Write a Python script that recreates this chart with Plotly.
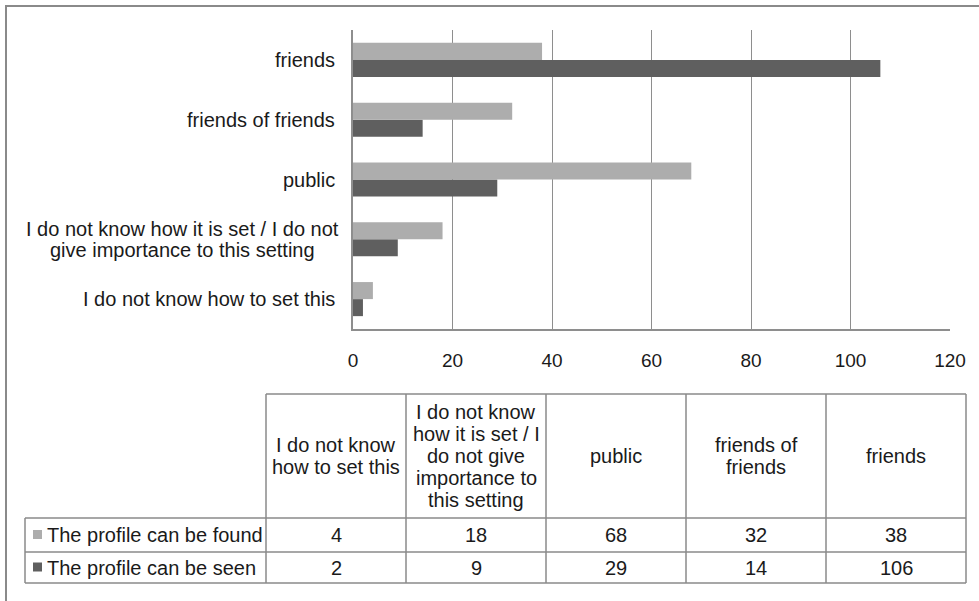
import plotly.graph_objects as go

# ---------------- data ----------------
categories = [
    "I do not know how to set this",
    "I do not know how it is set / I do not give importance to this setting",
    "public",
    "friends of friends",
    "friends",
]
axis_labels = [
    "I do not know how to set this",
    "I do not know how it is set / I do not<br>give importance to this setting",
    "public",
    "friends of friends",
    "friends",
]
table_headers = [
    "I do not know<br>how to set this",
    "I do not know<br>how it is set / I<br>do not give<br>importance to<br>this setting",
    "public",
    "friends of<br>friends",
    "friends",
]
series_names = ["The profile can be found", "The profile can be seen"]
found = [4, 18, 68, 32, 38]
seen = [2, 9, 29, 14, 106]
x_ticks = [0, 20, 40, 60, 80, 100, 120]

# ---------------- style ----------------
W, H = 979, 601
L, R, T, B = 353, 29, 30, 272
PW, PH = W - L - R, H - T - B
LIGHT = "#adadad"
DARK = "#5f5f5f"
GRID = "#8e8e8e"
TEXT = "#1a1a1a"
FONT = "Liberation Sans, Arial, sans-serif"
FS = 20
LS = 22  # line spacing in px


def px(xp):
    return (xp - L) / PW


def py(yp):
    return (H - B - yp) / PH


fig = go.Figure()
fig.add_trace(go.Bar(y=categories, x=seen, orientation="h", name=series_names[1],
                     marker=dict(color=DARK, line=dict(width=0))))
fig.add_trace(go.Bar(y=categories, x=found, orientation="h", name=series_names[0],
                     marker=dict(color=LIGHT, line=dict(width=0))))

annotations = []
shapes = []


def add_lines(text, x, y, xref, yref, xanchor, spacing, size=FS):
    lines = text.split("<br>")
    n = len(lines)
    for k, ln in enumerate(lines):
        shift = ((n - 1) / 2 - k) * spacing
        annotations.append(dict(x=x, y=y, xref=xref, yref=yref, text=ln, yshift=shift,
                                xanchor=xanchor, yanchor="middle", align="center",
                                showarrow=False, font=dict(size=size, color=TEXT, family=FONT)))


# y category labels
for cat, lab in zip(categories, axis_labels):
    if "<br>" in lab:
        add_lines(lab, px(182), cat, "paper", "y", "center", 21)
    else:
        add_lines(lab, px(337), cat, "paper", "y", "right", 21)

# outer frame
shapes.append(dict(type="rect", xref="paper", yref="paper",
                   x0=px(6), x1=px(990), y0=py(6), y1=py(612),
                   line=dict(color="#8a8a8a", width=2), layer="below"))

# ---------------- data table ----------------
col_edges = [266, 406, 546, 686, 826, 966]
label_left = 25
row_edges = [394, 518, 552, 583]
tline = dict(color="#8a8a8a", width=1.5)

shapes.append(dict(type="line", xref="paper", yref="paper", x0=px(col_edges[0]), x1=px(col_edges[-1]),
                   y0=py(row_edges[0]), y1=py(row_edges[0]), line=tline))
for ye in row_edges[1:]:
    shapes.append(dict(type="line", xref="paper", yref="paper", x0=px(label_left), x1=px(col_edges[-1]),
                       y0=py(ye), y1=py(ye), line=tline))
for xe in col_edges:
    shapes.append(dict(type="line", xref="paper", yref="paper", x0=px(xe), x1=px(xe),
                       y0=py(row_edges[0]), y1=py(row_edges[-1]), line=tline))
shapes.append(dict(type="line", xref="paper", yref="paper", x0=px(label_left), x1=px(label_left),
                   y0=py(row_edges[1]), y1=py(row_edges[-1]), line=tline))

for i, h in enumerate(table_headers):
    cx = (col_edges[i] + col_edges[i + 1]) / 2
    cy = (row_edges[0] + row_edges[1]) / 2
    add_lines(h, px(cx), py(cy), "paper", "paper", "center", LS)

for r, (name, vals, col) in enumerate([(series_names[0], found, LIGHT), (series_names[1], seen, DARK)]):
    cy = (row_edges[r + 1] + row_edges[r + 2]) / 2
    shapes.append(dict(type="rect", xref="paper", yref="paper", x0=px(33), x1=px(42),
                       y0=py(cy - 5), y1=py(cy + 4), fillcolor=col, line=dict(width=0)))
    annotations.append(dict(x=px(45), y=py(cy), xref="paper", yref="paper", text=name,
                            xanchor="left", yanchor="middle", showarrow=False,
                            font=dict(size=FS, color=TEXT, family=FONT)))
    for i, v in enumerate(vals):
        cx = (col_edges[i] + col_edges[i + 1]) / 2
        annotations.append(dict(x=px(cx), y=py(cy), xref="paper", yref="paper", text=str(v),
                                xanchor="center", yanchor="middle", showarrow=False,
                                font=dict(size=FS, color=TEXT, family=FONT)))

fig.update_layout(
    width=W, height=H,
    margin=dict(l=L, r=R, t=T, b=B, autoexpand=False),
    paper_bgcolor="white", plot_bgcolor="white",
    barmode="group", bargap=0.43, bargroupgap=0,
    showlegend=False,
    font=dict(family=FONT, color=TEXT, size=FS),
    xaxis=dict(range=[0, 120], tickvals=x_ticks, ticktext=[str(t) for t in x_ticks],
               showgrid=True, gridcolor=GRID, gridwidth=1.3, zeroline=False,
               showline=True, linecolor=GRID, linewidth=1.5,
               ticks="outside", ticklen=0, ticklabelstandoff=13,
               tickfont=dict(size=19, color=TEXT, family=FONT), automargin=False, fixedrange=True),
    yaxis=dict(categoryorder="array", categoryarray=categories, showticklabels=False,
               showgrid=False, zeroline=False, showline=True, linecolor=GRID, linewidth=1.5,
               ticks="", automargin=False, fixedrange=True),
    annotations=annotations, shapes=shapes,
)

fig.write_html("out.html")
